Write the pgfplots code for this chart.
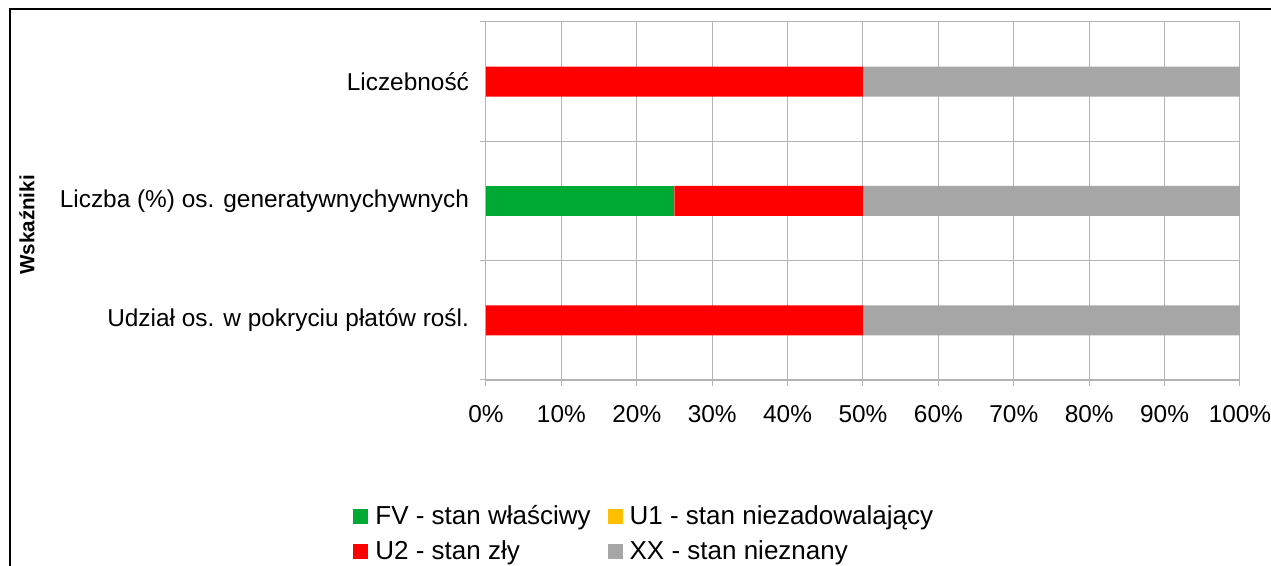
\documentclass[border=0pt]{standalone}
\usepackage{pgfplots}
\pgfplotsset{compat=1.18}
\usepackage{fontspec}
\setmainfont{Liberation Sans}
\definecolor{cFV}{HTML}{00A933}
\definecolor{cU1}{HTML}{FFBF00}
\definecolor{cU2}{HTML}{FF0000}
\definecolor{cXX}{HTML}{A6A6A6}
\definecolor{gridc}{HTML}{B3B3B3}
\begin{document}
\begin{tikzpicture}
\begin{axis}[
  at={(243pt,93pt)}, anchor=south west,
  scale only axis, width=377pt, height=179pt,
  xbar stacked, bar width=15pt,
  xmin=0, xmax=100, ymin=-0.5, ymax=2.5,
  xtick={0,10,...,100},
  xticklabel={\pgfmathprintnumber{\tick}\%},
  ytick={0,1,2},
  yticklabels={Udział os. w pokryciu płatów rośl., Liczba (\%) os. generatywnychywnych, Liczebność},
  minor ytick={-0.5,0.5,1.5,2.5},
  major y tick style={draw=none},
  minor y tick style={gridc, line width=0.5pt},
  x tick style={gridc, line width=0.5pt},
  tick align=outside,
  major tick length=6pt, minor tick length=5.5pt,
  xmajorgrids, yminorgrids,
  grid style={gridc, line width=0.5pt},
  minor grid style={gridc, line width=0.5pt},
  axis lines=left, axis line style={-, gridc, line width=0.5pt},
  x axis line style={line width=1pt},
  ticklabel style={font=\fontsize{12.2}{14}\selectfont, text=black},
  xticklabel style={yshift=-6pt},
  yticklabel style={xshift=-2pt},
  /pgf/number format/assume math mode=true,
  legend columns=2,
  legend style={at={(axis description cs:-0.1764,-0.338)}, anchor=north west, draw=none, inner sep=0pt,
    font=\fontsize{13}{15}\selectfont, column sep=0pt, row sep=2.5pt,
    /tikz/every odd column/.append style={column sep=1.5pt},
    /tikz/every even column/.append style={column sep=6.5pt}},
  legend cell align=left,
  legend image code/.code={\fill[#1] (0pt,-3.75pt) rectangle (7.5pt,3.75pt);},
]
\addplot[fill=cFV, draw=none] coordinates {(0,0) (25,1) (0,2)};
\addlegendentry{FV - stan właściwy}
\addplot[fill=cU1, draw=none] coordinates {(0,0) (0,1) (0,2)};
\addlegendentry{U1 - stan niezadowalający}
\addplot[fill=cU2, draw=none] coordinates {(50,0) (25,1) (50,2)};
\addlegendentry{U2 - stan zły}
\addplot[fill=cXX, draw=none] coordinates {(50,0) (50,1) (50,2)};
\addlegendentry{XX - stan nieznany}
\end{axis}
\node[rotate=90, font=\bfseries\fontsize{10.3}{12}\selectfont] at (13.5pt,170.5pt) {Wskaźniki};
\draw[line width=1pt] (4.75pt,-20pt) rectangle (660pt,278.25pt);
\pgfresetboundingbox
\useasboundingbox (0,0) rectangle (635.5pt,283pt);
\end{tikzpicture}
\end{document}
